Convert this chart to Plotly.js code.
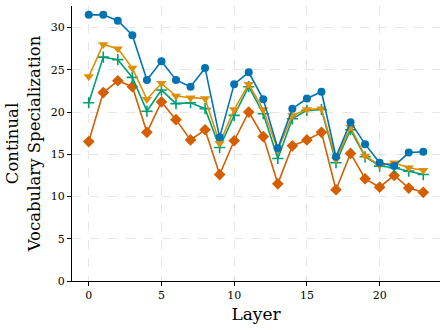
<!DOCTYPE html>
<html><head><meta charset="utf-8">
<script src="https://cdn.plot.ly/plotly-3.0.1.min.js"></script>
<style>html,body{margin:0;padding:0;background:#fff}#c{width:448px;height:330px}</style>
</head><body><div id="c"></div>
<script>
const layers = [0,1,2,3,4,5,6,7,8,9,10,11,12,13,14,15,16,17,18,19,20,21,22,23];
const blueVals = [31.5,31.5,30.8,29.1,23.8,26.0,23.8,23.0,25.2,17.0,23.3,24.7,21.5,15.7,20.4,21.6,22.4,14.7,18.8,16.2,14.0,13.6,15.2,15.3];
const orangeVals = [24.2,28.0,27.5,25.2,21.5,23.4,21.9,21.7,21.6,16.3,20.3,23.3,20.3,15.5,19.6,20.3,20.4,14.4,18.2,14.8,13.7,14.0,13.4,13.1];
const greenVals = [21.1,26.5,26.2,24.1,20.1,22.6,21.0,21.1,20.4,15.8,19.6,23.0,19.8,14.5,19.2,20.2,20.3,14.0,17.9,14.7,13.6,13.4,13.0,12.6];
const redVals = [16.5,22.3,23.7,23.0,17.6,21.2,19.1,16.7,17.9,12.6,16.6,20.0,17.1,11.5,16.0,16.7,17.6,10.8,15.1,12.1,11.1,12.5,11.0,10.5];
const xTicks = [0,5,10,15,20];
const yTicks = [0,5,10,15,20,25,30];

function tr(y, color, symbol, size){
  return {x: layers, y: y, type:'scatter', mode:'lines+markers',
    line:{color:color, width:1.6},
    marker:{color:color, symbol:symbol, size:size, line:{width: symbol==='cross-thin'?1.6:0, color:color}}};
}
const data = [
  tr(blueVals,'#0173B2','circle',8),
  tr(orangeVals,'#DE8F05','triangle-down',9),
  tr(greenVals,'#029E73','cross-thin',8),
  tr(redVals,'#D55E00','diamond',9)
];
const font = {family:'DejaVu Serif, serif', color:'#000'};
const layout = {
  width:448, height:330, showlegend:false,
  paper_bgcolor:'#fff', plot_bgcolor:'#fff',
  margin:{l:72, r:8, t:6, b:49},
  font: font,
  xaxis:{range:[-1.15,24.15], tickvals:xTicks, ticktext:xTicks.map(String),
    showline:true, linecolor:'#000', linewidth:1, ticks:'outside', ticklen:4, tickcolor:'#000',
    showgrid:true, gridcolor:'#e0e0e0', griddash:'dash', gridwidth:0.8, zeroline:false,
    tickfont:{family:font.family, size:11, color:'#000'},
    title:{text:'Layer', font:{family:font.family, size:17, color:'#000'}, standoff:6}},
  yaxis:{range:[0,32.55], tickvals:yTicks, ticktext:yTicks.map(String),
    showline:true, linecolor:'#000', linewidth:1, ticks:'outside', ticklen:4, tickcolor:'#000',
    showgrid:true, gridcolor:'#e0e0e0', griddash:'dash', gridwidth:0.8, zeroline:false,
    tickfont:{family:font.family, size:11, color:'#000'},
    title:{text:'Continual<br>Vocabulary Specialization', font:{family:font.family, size:16.5, color:'#000'}, standoff:6}}
};
Plotly.newPlot('c', data.slice().reverse(), layout, {staticPlot:true, displayModeBar:false});
</script></body></html>
